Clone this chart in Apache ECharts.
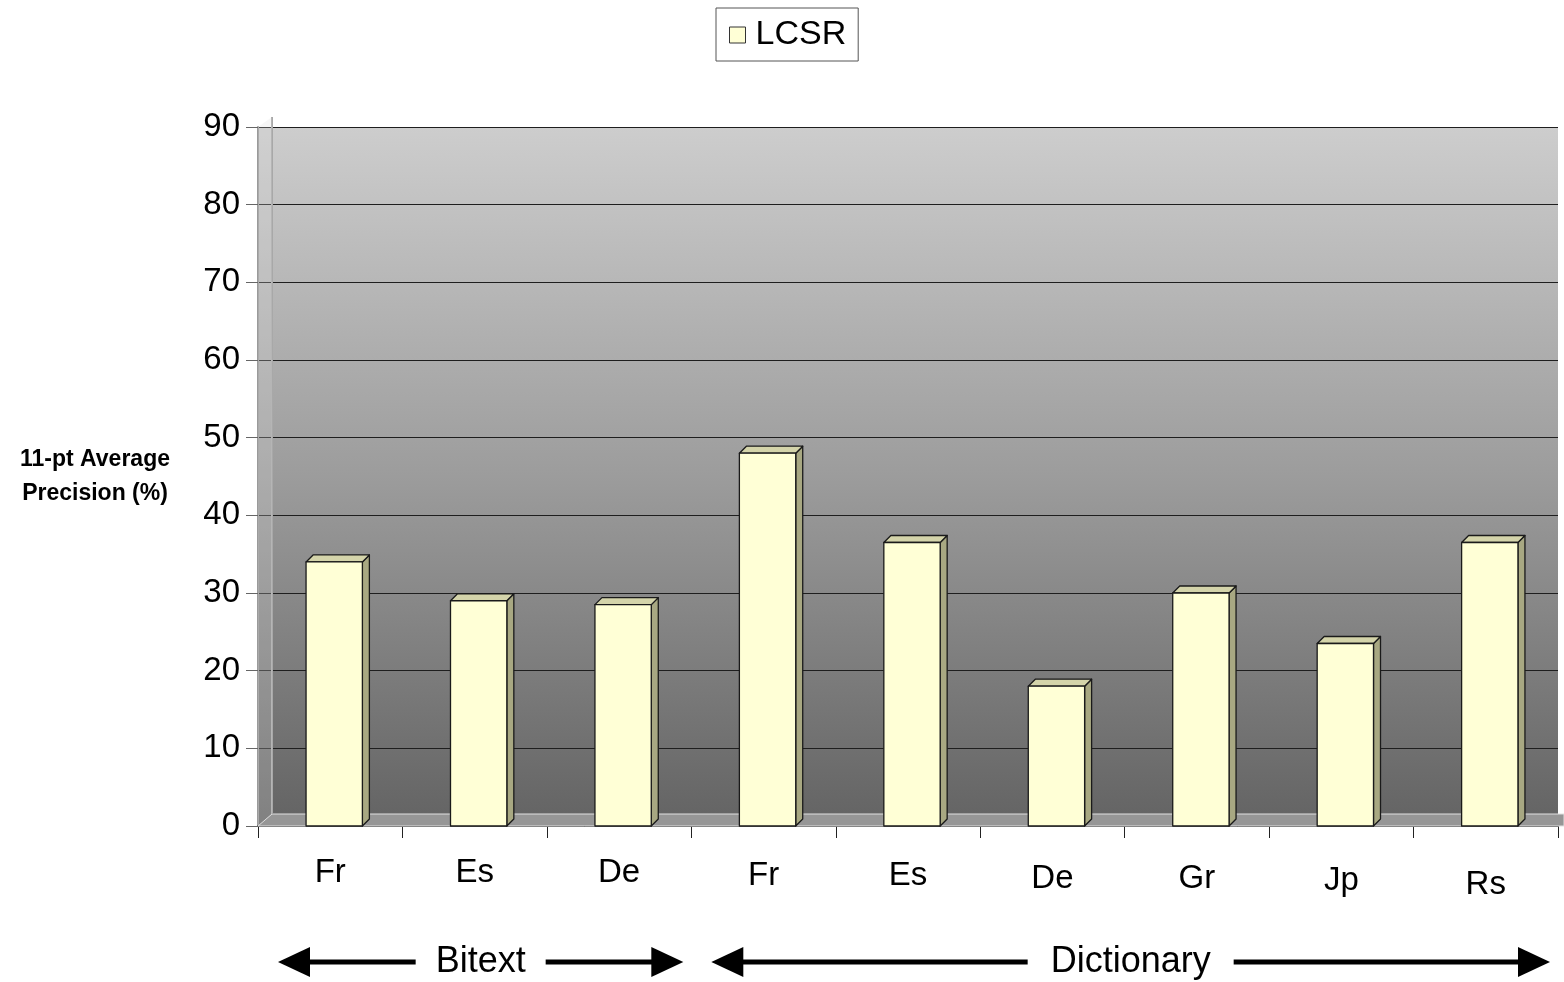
<!DOCTYPE html>
<html>
<head>
<meta charset="utf-8">
<script src="https://cdn.jsdelivr.net/npm/echarts@6/dist/echarts.min.js"></script>
<style>
  html, body { margin: 0; padding: 0; background: #fff; }
  #chart { width: 1564px; height: 982px; }
</style>
</head>
<body>
<div id="chart"></div>
<script>
// Languages tested, grouped by source (Bitext, Dictionary)
const categories = ['Fr', 'Es', 'De', 'Fr', 'Es', 'De', 'Gr', 'Jp', 'Rs'];
const lcsr = [34, 29, 28.5, 48, 36.5, 18, 30, 23.5, 36.5];
const yTicks = [0, 10, 20, 30, 40, 50, 60, 70, 80, 90];
const groups = [
  { name: 'Bitext', from: 0, to: 3 },
  { name: 'Dictionary', from: 3, to: 9 }
];

const FONT = '"Liberation Sans", Arial, sans-serif';
const DEPTH = 7;
// category labels drop slightly toward the right (perspective of the floor)
const labelDrop = [0, 0, 0, 3, 3, 6, 6, 8, 12];

const chart = echarts.init(document.getElementById('chart'));

function renderBar(params, api) {
  const idx = api.value(0);
  const top = api.coord([idx, api.value(1)]);
  const base = api.coord([idx, 0]);
  const band = api.size([1, 0])[0];
  const w = band * 0.39;
  const x0 = top[0] - w / 2 + 4;
  const x1 = x0 + w;
  const y0 = top[1];
  const y1 = base[1];
  const stroke = { stroke: '#1a1a1a', lineWidth: 1.3, lineJoin: 'round' };
  return {
    type: 'group',
    children: [
      {
        type: 'polygon',
        shape: { points: [[x1, y0], [x1 + DEPTH, y0 - DEPTH], [x1 + DEPTH, y1 - DEPTH], [x1, y1]] },
        style: Object.assign({ fill: '#a8a882' }, stroke)
      },
      {
        type: 'polygon',
        shape: { points: [[x0, y0], [x0 + DEPTH, y0 - DEPTH], [x1 + DEPTH, y0 - DEPTH], [x1, y0]] },
        style: Object.assign({ fill: '#d4d4aa' }, stroke)
      },
      {
        type: 'rect',
        shape: { x: x0, y: y0, width: w, height: y1 - y0 },
        style: Object.assign({ fill: '#ffffd6' }, stroke)
      }
    ]
  };
}

const labelRich = {};
labelDrop.forEach((d, i) => {
  labelRich['c' + i] = { fontFamily: FONT, fontSize: 33, color: '#000', padding: [d, 0, 0, 0] };
});

chart.setOption({
  animation: false,
  backgroundColor: '#ffffff',
  legend: {
    top: 8,
    left: 716,
    data: [{ name: 'LCSR', icon: 'rect' }],
    itemWidth: 16,
    itemHeight: 16,
    itemGap: 6,
    padding: [10, 12, 9, 13],
    borderColor: '#555',
    borderWidth: 1,
    borderRadius: 0,
    formatter: n => '{t|' + n + '}',
    textStyle: {
      fontFamily: FONT, fontSize: 34, color: '#000',
      rich: { t: { fontFamily: FONT, fontSize: 34, color: '#000', padding: [0, 0, 0, 5] } }
    },
    itemStyle: { color: '#ffffd6', borderColor: '#333', borderWidth: 1 }
  },
  grid: {
    left: 258,
    right: 6,
    top: 127,
    bottom: 156,
    show: true,
    borderWidth: 0,
    backgroundColor: {
      type: 'linear', x: 0, y: 0, x2: 0, y2: 1,
      colorStops: [
        { offset: 0, color: '#cdcdcd' },
        { offset: 0.5, color: '#9c9c9c' },
        { offset: 1, color: '#636363' }
      ]
    }
  },
  xAxis: {
    type: 'category',
    data: categories,
    boundaryGap: true,
    axisLine: { lineStyle: { color: '#333', width: 1.5 } },
    axisTick: { show: true, inside: false, length: 12, alignWithLabel: false, lineStyle: { color: '#222' } },
    axisLabel: {
      margin: 30,
      formatter: (v, i) => '{c' + i + '|' + v + '}',
      rich: labelRich
    },
    splitLine: { show: false }
  },
  yAxis: {
    type: 'value',
    min: 0,
    max: 90,
    interval: 10,
    name: '11-pt Average\nPrecision (%)',
    nameLocation: 'middle',
    nameRotate: 0,
    nameGap: 163,
    nameTextStyle: { fontFamily: FONT, fontSize: 23, fontWeight: 'bold', color: '#000', lineHeight: 34, align: 'center' },
    axisLine: { show: true, lineStyle: { color: '#9a9a9a', width: 2 } },
    axisTick: { show: true, length: 12, lineStyle: { color: '#666' } },
    axisLabel: {
      fontFamily: FONT, fontSize: 33, color: '#000', margin: 18,
      formatter: v => (yTicks.indexOf(v) >= 0 ? String(v) : '')
    },
    splitLine: { show: true, lineStyle: { color: '#1e1e1e', width: 1.2 } }
  },
  series: [
    {
      name: 'LCSR',
      type: 'custom',
      renderItem: renderBar,
      encode: { x: 0, y: 1 },
      itemStyle: { color: '#ffffd6', borderColor: '#333' },
      data: lcsr.map((v, i) => [i, v]),
      z: 5
    }
  ]
});

// Floor strip, left wall edge and group arrows placed from the axis scale
function drawDecor() {
  const p0 = chart.convertToPixel({ gridIndex: 0 }, [0, 0]);
  const band = chart.convertToPixel({ xAxisIndex: 0 }, 1) - chart.convertToPixel({ xAxisIndex: 0 }, 0);
  const leftEdge = p0[0] - band / 2;
  const yZero = p0[1];
  const yTop = chart.convertToPixel({ yAxisIndex: 0 }, 90);
  const rightEdge = leftEdge + band * categories.length;
  const elements = [
    {
      type: 'polygon', z: 1, silent: true,
      shape: { points: [[leftEdge, yZero], [leftEdge + 14, yZero - 12], [rightEdge + 6, yZero - 12], [rightEdge + 6, yZero]] },
      style: { fill: '#969696', stroke: '#e0e0e0', lineWidth: 1 }
    },
    {
      type: 'line', z: 1, silent: true,
      shape: { x1: leftEdge + 14, y1: yTop - 10, x2: leftEdge + 14, y2: yZero - 12 },
      style: { stroke: '#a8a8a8', lineWidth: 2 }
    },
    {
      type: 'polygon', z: 1, silent: true,
      shape: { points: [[leftEdge, yTop], [leftEdge + 14, yTop - 10], [leftEdge + 14, yZero - 12], [leftEdge, yZero]] },
      style: { fill: 'rgba(220,220,220,0.25)' }
    }
  ];
  const yArrow = 962;
  const halfGap = { Bitext: 65, Dictionary: 103 };
  groups.forEach(g => {
    const xa = leftEdge + band * g.from + 20;
    const xb = leftEdge + band * g.to - 8;
    const cx = (xa + xb) / 2;
    const half = halfGap[g.name];
    elements.push(
      { type: 'line', silent: true, shape: { x1: xa + 30, y1: yArrow, x2: cx - half, y2: yArrow }, style: { stroke: '#000', lineWidth: 5 } },
      { type: 'line', silent: true, shape: { x1: cx + half, y1: yArrow, x2: xb - 30, y2: yArrow }, style: { stroke: '#000', lineWidth: 5 } },
      { type: 'polygon', silent: true, shape: { points: [[xa, yArrow], [xa + 32, yArrow - 15], [xa + 32, yArrow + 15]] }, style: { fill: '#000' } },
      { type: 'polygon', silent: true, shape: { points: [[xb, yArrow], [xb - 32, yArrow - 15], [xb - 32, yArrow + 15]] }, style: { fill: '#000' } },
      { type: 'text', silent: true, x: cx, y: yArrow, style: { text: g.name, fontFamily: FONT, fontSize: 36, fill: '#000', align: 'center', verticalAlign: 'middle' } }
    );
  });
  chart.setOption({ graphic: elements });
}
drawDecor();
</script>
</body>
</html>
